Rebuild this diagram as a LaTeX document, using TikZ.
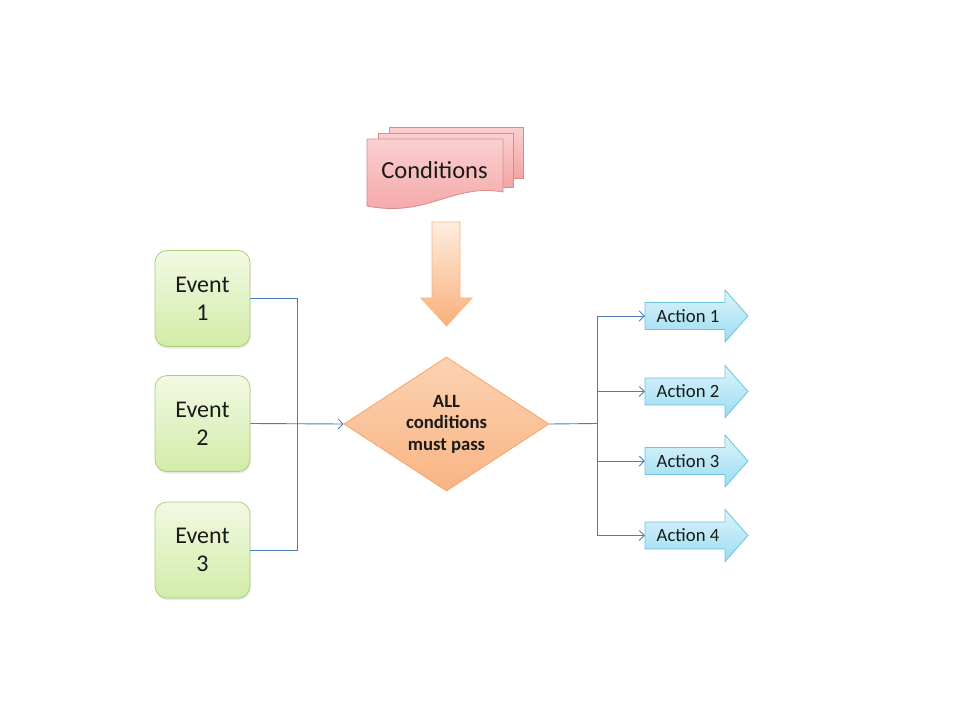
\documentclass[tikz,border=0pt]{standalone}
\usepackage{fontspec}
\setmainfont{Carlito}
\usetikzlibrary{arrows.meta,shapes.geometric,shadows}
\definecolor{lnk}{HTML}{4A7EBB}
\definecolor{evtop}{HTML}{F2F9E3}
\definecolor{evbot}{HTML}{D2ECA8}
\definecolor{evbd}{HTML}{A9CF79}
\definecolor{cdtop}{HTML}{FAD0D0}
\definecolor{cdbot}{HTML}{F4A4A4}
\definecolor{cdbd}{HTML}{DA8A8A}
\definecolor{dmtop}{HTML}{FCD2B2}
\definecolor{dmbot}{HTML}{F9B483}
\definecolor{dmbd}{HTML}{F4A46A}
\definecolor{artop}{HTML}{FDEDE0}
\definecolor{arbot}{HTML}{F9B079}
\definecolor{arbd}{HTML}{F6B585}
\definecolor{actop}{HTML}{DDF4FB}
\definecolor{acbot}{HTML}{9ADCF2}
\definecolor{acbd}{HTML}{6CC4DE}
\definecolor{txt}{HTML}{1A1A1A}
\begin{document}
\begin{tikzpicture}[x=1pt,y=-1pt,
  every node/.style={text=txt},
  event/.style={draw=evbd, line width=0.8pt, rounded corners=12pt,
    top color=evtop, bottom color=evbot, minimum width=95pt, minimum height=96pt,
    inner sep=0pt, align=center, font=\fontsize{24}{28}\selectfont,
    drop shadow={opacity=0.18, shadow xshift=0.5pt, shadow yshift=-2pt}},
  conn/.style={draw=lnk, line width=0.9pt},
  arr/.style={conn, -{Straight Barb[length=5pt,width=10pt,line width=0.8pt]}},
  cond/.style={draw=cdbd, line width=0.8pt, top color=cdtop, bottom color=cdbot},
  downarr/.style={draw=arbd, line width=0.8pt, top color=artop, bottom color=arbot},
  actshape/.style={draw=acbd, line width=0.8pt, top color=actop, bottom color=acbot},
  actbody/.style={minimum width=80pt, minimum height=27pt, inner sep=0pt,
    font=\fontsize{18.7}{22}\selectfont},
  decision/.style={diamond, aspect=1.53, inner sep=0pt, minimum width=205pt,
    minimum height=134pt, draw=dmbd, line width=0.8pt, top color=dmtop,
    bottom color=dmbot, align=center, font=\bfseries\fontsize{18.7}{21.5}\selectfont}
]
\useasboundingbox (0,0) rectangle (960,720);
\fill[white] (0,0) rectangle (960,720);

% conditions (stacked documents)
\draw[cond] (389,127) -- (523,127) -- (523,178) -- (389,178) -- cycle;
\draw[cond] (378,133) -- (513,133) -- (513,187) -- (378,187) -- cycle;
\draw[cond] (367,139) -- (503,139) -- (503,192)
  .. controls (452,183) and (428,218) .. (367,206) -- cycle;
\node[font=\fontsize{24.5}{28}\selectfont] (cond) at (434.5,170) {Conditions};

% down arrow
\draw[downarr] (432,222) -- (460,222) -- (460,298) -- (472,298) -- (446.5,326)
  -- (421,298) -- (432,298) -- cycle;

% events
\node[event] (e1) at (202.5,298.5) {Event\\1};
\node[event] (e2) at (202.5,423.5) {Event\\2};
\node[event] (e3) at (202.5,550) {Event\\3};

% decision
\node[decision] (d) at (446.5,424) {ALL\\conditions\\must pass};

% actions
\foreach \y/\t/\n in {316/Action 1/a1, 391.5/Action 2/a2, 461/Action 3/a3, 535.5/Action 4/a4} {
  \draw[actshape] (645,\y-13.5) -- (725,\y-13.5) -- (725,\y-26) -- (748,\y)
    -- (725,\y+26) -- (725,\y+13.5) -- (645,\y+13.5) -- cycle;
  \node[actbody] (\n) at (688,\y) {\t};
}

% connectors
\coordinate (jl) at (297,423.5);
\coordinate (jr) at (597,423.5);
\draw[conn] (e1.east) -| (jl);
\draw[conn] (e3.east) -| (jl);
\draw[arr] (e2.east) -- (d.west);
\draw[conn] (d.east) -- (jr);
\draw[arr] (jr) |- ([xshift=-3pt]a1.west);
\draw[arr] (jr) |- ([xshift=-3pt]a2.west);
\draw[arr] (jr) |- ([xshift=-3pt]a3.west);
\draw[arr] (jr) |- ([xshift=-3pt]a4.west);
\end{tikzpicture}
\end{document}
